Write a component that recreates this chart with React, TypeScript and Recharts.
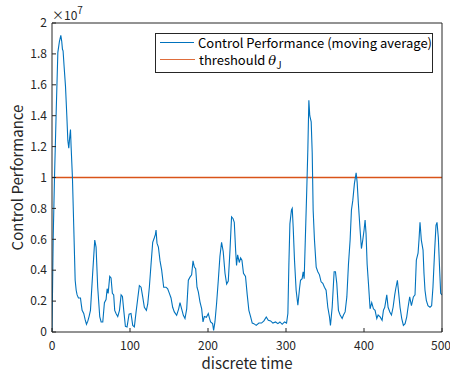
import { LineChart, Line, XAxis, YAxis, Legend, Label, ReferenceLine } from 'recharts'

// discrete time steps and the moving-average control performance (x 10^7)
const steps = [
  0, 1.5, 3.2, 5.5, 7.5, 9.5, 11.3, 12.5, 13.4, 14.2, 15.5, 17.3, 19, 20.3, 21.5, 22.5, 23.7, 24.5, 26.2, 27.9,
  29.7, 31, 32.2, 33.9, 36.5, 37.5, 38.6, 40.7, 42.5, 44.2, 45.9, 47.5, 49.3, 51.9, 54.8, 56.5, 58.6, 61.2, 63, 65.1,
  67.2, 69.3, 70.7, 72, 74, 75.7, 77.4, 79.1, 80.4, 82.1, 84.3, 86.5, 88.6, 90.3, 92, 94.1, 96.2, 98.8, 101.3, 103.5,
  105.6, 107.8, 110, 112, 114.2, 116.3, 118.4, 121, 122.7, 124.8, 127, 129.1, 131.2, 132.5, 133.4, 134.6, 136.4, 138.5, 140.6, 143.2,
  146.2, 148.3, 150.5, 152.6, 154.7, 156.8, 159.8, 162.4, 164.1, 166.2, 168.4, 170.5, 172.7, 174.8, 176.9, 179, 180.8, 182.5, 184.2, 185.9,
  187.6, 189.7, 191.9, 193.6, 195.3, 197.9, 200.4, 201.6, 203.3, 205.9, 207.2, 208.9, 211, 213.2, 215.3, 217.4, 219.5, 221.8, 223.9, 226,
  228.2, 230.2, 232, 233.7, 235.4, 236.6, 238, 240.1, 241.8, 243.5, 245.5, 248.1, 250.3, 252.4, 254.6, 256.7, 258.8, 261.8, 265.2, 268.6,
  271.7, 274.7, 277.3, 280.3, 283.2, 286.6, 289.6, 292.2, 295.1, 298.1, 300.7, 302.4, 303.7, 305, 307, 308, 309.2, 310.9, 313, 315.2,
  317.3, 318.6, 320.7, 322, 323.3, 325, 326.5, 328, 329.3, 330.5, 332.3, 333.6, 334.8, 336.5, 338.7, 340.8, 342.9, 345, 347.2, 349.3,
  351.4, 353.6, 355.7, 357, 359.2, 361.7, 363.4, 365.1, 367.2, 369.4, 372, 373.7, 375.8, 378, 380.1, 382.2, 383.9, 385.6, 387.7, 389.9,
  391.2, 392.8, 395, 396.7, 398.4, 400.1, 401.4, 402.6, 404, 405.7, 407.8, 409.9, 412.1, 414.2, 416.4, 418.1, 420.7, 423.2, 424.9, 426.6,
  429.2, 430.9, 433.1, 435.2, 437.3, 439.4, 440.7, 442.8, 444.5, 446.2, 448.4, 450.5, 452.7, 454.8, 456.5, 458.6, 460.8, 463.3, 465.4, 467.1,
  469.3, 470.5, 471.8, 473.5, 475.7, 476.9, 478.2, 479.9, 482, 484.6, 486.7, 488.4, 490.6, 492.3, 493.6, 495.3, 497, 498.3, 500,
]
const perf = [
  0, 0.6, 1.0, 1.45, 1.81, 1.88, 1.92, 1.88, 1.83, 1.82, 1.72, 1.59, 1.4, 1.24, 1.19, 1.25, 1.31, 1.2, 1.0, 0.68,
  0.335, 0.27, 0.24, 0.22, 0.22, 0.18, 0.14, 0.12, 0.08, 0.05, 0.07, 0.1, 0.14, 0.36, 0.595, 0.55, 0.29, 0.1, 0.065, 0.065,
  0.19, 0.21, 0.28, 0.25, 0.36, 0.35, 0.25, 0.24, 0.14, 0.12, 0.1, 0.14, 0.24, 0.23, 0.14, 0.037, 0.033, 0.115, 0.12, 0.043,
  0.033, 0.13, 0.22, 0.3, 0.29, 0.227, 0.16, 0.14, 0.18, 0.29, 0.44, 0.58, 0.61, 0.63, 0.66, 0.575, 0.55, 0.46, 0.4, 0.29,
  0.29, 0.28, 0.25, 0.22, 0.16, 0.13, 0.108, 0.15, 0.19, 0.15, 0.108, 0.087, 0.15, 0.335, 0.355, 0.37, 0.46, 0.42, 0.41, 0.29,
  0.26, 0.195, 0.15, 0.065, 0.1, 0.095, 0.12, 0.095, 0.065, 0.054, 0.01, 0.065, 0.184, 0.335, 0.49, 0.58, 0.52, 0.38, 0.31, 0.33,
  0.53, 0.745, 0.735, 0.71, 0.53, 0.43, 0.5, 0.45, 0.48, 0.465, 0.38, 0.36, 0.24, 0.14, 0.1, 0.058, 0.054, 0.043, 0.058, 0.058,
  0.072, 0.097, 0.076, 0.072, 0.058, 0.065, 0.054, 0.065, 0.05, 0.065, 0.058, 0.12, 0.44, 0.7, 0.79, 0.8, 0.68, 0.465, 0.27, 0.173,
  0.28, 0.335, 0.345, 0.39, 0.345, 0.64, 0.9, 1.18, 1.5, 1.4, 1.36, 1.16, 0.79, 0.595, 0.42, 0.39, 0.37, 0.325, 0.315, 0.29,
  0.27, 0.16, 0.1, 0.043, 0.16, 0.39, 0.39, 0.315, 0.14, 0.11, 0.087, 0.11, 0.13, 0.227, 0.44, 0.595, 0.79, 0.85, 0.96, 1.03,
  0.97, 0.83, 0.66, 0.54, 0.595, 0.66, 0.725, 0.64, 0.44, 0.315, 0.15, 0.19, 0.15, 0.14, 0.087, 0.11, 0.098, 0.076, 0.14, 0.16,
  0.24, 0.16, 0.13, 0.11, 0.16, 0.24, 0.28, 0.335, 0.25, 0.16, 0.087, 0.043, 0.054, 0.098, 0.16, 0.227, 0.17, 0.227, 0.24, 0.465,
  0.51, 0.595, 0.71, 0.595, 0.53, 0.38, 0.27, 0.205, 0.17, 0.16, 0.17, 0.29, 0.53, 0.69, 0.71, 0.61, 0.4, 0.25, 0.24,
]
const threshold = 1

const xTicks = [0, 100, 200, 300, 400, 500]
const yTicks = [0, 0.2, 0.4, 0.6, 0.8, 1, 1.2, 1.4, 1.6, 1.8, 2]
const seriesNames = ['Control Performance (moving average)', 'threshould']

const perfData = steps.map((t, i) => ({ t, perf: perf[i] }))

const FONT = '"Noto Sans CJK JP", "Noto Sans", sans-serif'
const AXIS = '#262626'
const BLUE = '#0072BD'
const ORANGE = '#D95319'
const seriesColors = [BLUE, ORANGE]

const tickStyle = { fill: AXIS, fontSize: 12, fontFamily: FONT }

function XTitle(props: any) {
  const vb = props.viewBox
  return (
    <text x={vb.x + vb.width / 2} y={369} textAnchor="middle" fontSize={15} fill={AXIS} fontFamily={FONT}>
      discrete time
    </text>
  )
}

function YTitle(props: any) {
  const vb = props.viewBox
  const cx = vb.x + 23
  const cy = vb.y + vb.height / 2
  return (
    <g>
      <text x={cx} y={cy} transform={`rotate(-90, ${cx}, ${cy})`} textAnchor="middle" fontSize={15} fill={AXIS} fontFamily={FONT}>
        Control Performance
      </text>
      <text x={vb.x + vb.width} y={20} fontSize={12} fill={AXIS} fontFamily={FONT}>
        ×10<tspan dy={-6} fontSize={10}>7</tspan>
      </text>
    </g>
  )
}

function LegendBox() {
  return (
    <div style={{ border: `1px solid ${AXIS}`, background: '#fff', padding: '0 0 4px 4px', fontFamily: FONT, fontSize: 13, color: '#000', lineHeight: '17px', boxSizing: 'border-box', width: 278 }}>
      {seriesNames.map((name, i) => (
        <div key={name} style={{ display: 'flex', alignItems: 'center', height: 17, whiteSpace: 'nowrap' }}>
          <span style={{ display: 'inline-block', width: 35, height: 1.5, background: seriesColors[i], opacity: i === 1 ? 0.85 : 1, marginRight: 4 }} />
          <span>
            {name}
            {i === 1 && (
              <>
                {' '}<i style={{ fontFamily: 'DejaVu Serif, serif' }}>θ</i>
                <span style={{ fontSize: 10, position: 'relative', top: 4, lineHeight: 0 }}>J</span>
              </>
            )}
          </span>
        </div>
      ))}
    </div>
  )
}

export default function App() {
  return (
    <div style={{ position: 'absolute', left: 0, top: 0, width: 450, height: 374, background: '#fff' }}>
      <LineChart width={450} height={374} data={perfData} margin={{ top: 22, right: 7, bottom: 0, left: 0 }}>
        <XAxis xAxisId="b" dataKey="t" type="number" domain={[0, 500]} ticks={xTicks} height={42} tickSize={-4} tickMargin={13}
          stroke={AXIS} tick={tickStyle} allowDataOverflow>
          <Label content={XTitle} />
        </XAxis>
        <XAxis xAxisId="t" dataKey="t" orientation="top" type="number" domain={[0, 500]} ticks={xTicks} height={1} tickSize={-4} tick={false} stroke={AXIS} />
        <YAxis yAxisId="l" type="number" domain={[0, 2]} ticks={yTicks} width={52} tickSize={-4} tickMargin={9}
          stroke={AXIS} tick={tickStyle} tickFormatter={(v: number) => String(Math.round(v * 10) / 10)} allowDataOverflow>
          <Label content={YTitle} />
        </YAxis>
        <YAxis yAxisId="r" orientation="right" type="number" domain={[0, 2]} ticks={yTicks} width={1} tickSize={-4} tick={false} stroke={AXIS} />
        <ReferenceLine xAxisId="b" yAxisId="l" y={threshold} stroke={ORANGE} strokeWidth={1.4} ifOverflow="visible" />
        <Line xAxisId="b" yAxisId="l" dataKey="perf" name={seriesNames[0]} stroke={BLUE} strokeWidth={1.1}
          dot={false} type="linear" isAnimationActive={false} />
        <Legend layout="horizontal" verticalAlign="middle" align="center" content={LegendBox}
          wrapperStyle={{ top: 33, left: 155, width: 278 }} />
      </LineChart>
    </div>
  )
}
